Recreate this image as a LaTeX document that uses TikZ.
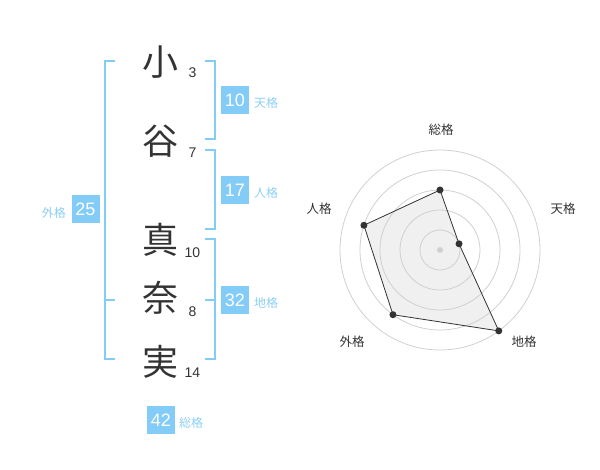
\documentclass[tikz,border=0pt]{standalone}
\usepackage{fontspec}
\setmainfont{Liberation Sans}
\newfontfamily\cjk{Noto Sans CJK JP}
\definecolor{sky}{HTML}{82CCF7}
\definecolor{skytext}{HTML}{8CCFF5}
\definecolor{ink}{HTML}{333333}
\definecolor{ring}{HTML}{D0D0D0}
\definecolor{area}{HTML}{F0F0F0}
\begin{document}
\begin{tikzpicture}[x=1pt,y=-1pt,
  kanji/.style={font=\cjk\fontsize{36}{36}\selectfont, text=ink, inner sep=0pt},
  strokes/.style={font=\fontsize{14}{14}\selectfont, text=ink, inner sep=0pt},
  scorebox/.style={fill=sky, text=white, minimum width=28pt, minimum height=28pt, inner sep=0pt, font=\fontsize{18}{18}\selectfont},
  scorelabel/.style={font=\cjk\fontsize{12}{12}\selectfont, text=skytext, inner sep=0pt},
  bracket/.style={draw=sky, line width=2pt},
  axislabel/.style={font=\cjk\fontsize{12.5}{12.5}\selectfont, text=ink, inner sep=0pt},
  ringline/.style={draw=ring, line width=0.8pt},
  vertex/.style={circle, fill=ink, inner sep=0pt, minimum size=7pt}
]
\useasboundingbox (0,0) rectangle (600,470);

% name characters
\node[kanji] (k1) at (160,62) {小};
\node[kanji] (k2) at (160,141) {谷};
\node[kanji] (k3) at (160,240) {真};
\node[kanji] (k4) at (160,298) {奈};
\node[kanji] (k5) at (160,362) {実};

% stroke counts
\node[strokes] (s1) at (192.5,72.5) {3};
\node[strokes] (s2) at (192.5,153) {7};
\node[strokes] (s3) at (192.5,252.5) {10};
\node[strokes] (s4) at (192.5,312) {8};
\node[strokes] (s5) at (192.5,372.5) {14};

% brackets
\coordinate (lt) at (115,61);
\coordinate (lb) at (115,359);
\coordinate (lm) at (115,300);
\draw[bracket] (lt) -- ++(-10,0) |- (lb);
\draw[bracket] (lm) -- ++(-10,0);

\coordinate (t1) at (205,61);
\coordinate (t2) at (205,139);
\draw[bracket] (t1) -- ++(9.5,0) |- (t2);
\coordinate (j1) at (205,150);
\coordinate (j2) at (205,229.5);
\draw[bracket] (j1) -- ++(9.5,0) |- (j2);
\coordinate (c1) at (205,239.5);
\coordinate (c2) at (205,359);
\coordinate (cm) at (205,300);
\draw[bracket] (c1) -- ++(9.5,0) |- (c2);
\draw[bracket] (cm) -- ++(9.5,0);

% score boxes and labels
\node[scorebox] (b10) at (235,100) {10};
\node[scorelabel, anchor=west] (l10) at (254,103) {天格};
\node[scorebox] (b17) at (235,190) {17};
\node[scorelabel, anchor=west] (l17) at (254,193) {人格};
\node[scorebox] (b32) at (235,300) {32};
\node[scorelabel, anchor=west] (l32) at (254,303) {地格};
\node[scorebox] (b25) at (85.5,209.5) {25};
\node[scorelabel, anchor=east] (l25) at (66,212.5) {外格};
\node[scorebox] (b42) at (161,420) {42};
\node[scorelabel, anchor=west] (l42) at (179,423) {総格};

% radar chart
\coordinate (C) at (440,250);
\coordinate (pso) at (440,190);
\coordinate (pte) at (459.02,243.82);
\coordinate (pch) at (498.78,330.90);
\coordinate (pga) at (392.98,314.72);
\coordinate (pji) at (363.92,225.28);
\fill[area] (pso) -- (pte) -- (pch) -- (pga) -- (pji) -- cycle;
\foreach \r in {20,40,60,80,100} {
  \draw[ringline] (C) circle[radius=\r];
}
\draw[draw=ink, line width=0.8pt, line join=round] (pso) -- (pte) -- (pch) -- (pga) -- (pji) -- cycle;
\node[circle, fill=ring, inner sep=0pt, minimum size=6pt] (cen) at (C) {};
\foreach \p in {pso,pte,pch,pga,pji} {
  \node[vertex] at (\p) {};
}
\node[axislabel] (aso) at (441,130) {総格};
\node[axislabel] (ate) at (563,209) {天格};
\node[axislabel] (aji) at (319,209) {人格};
\node[axislabel] (aga) at (352,342) {外格};
\node[axislabel] (ach) at (524,342) {地格};
\end{tikzpicture}
\end{document}
